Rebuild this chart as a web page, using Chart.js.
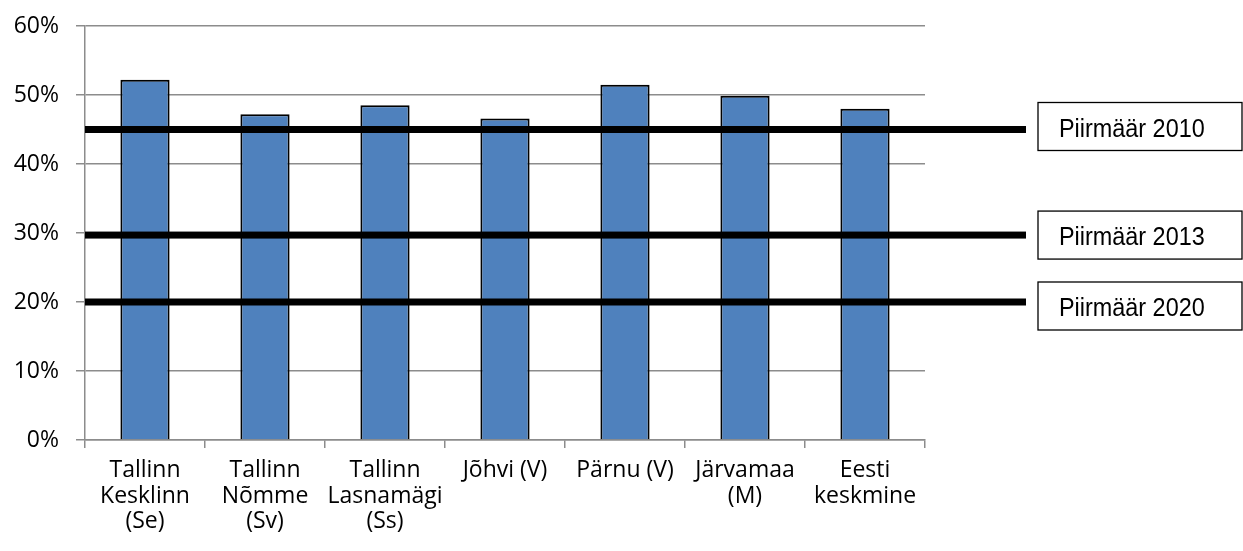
<!DOCTYPE html>
<html>
<head>
<meta charset="utf-8">
<script src="https://cdn.jsdelivr.net/npm/chart.js@4/dist/chart.umd.min.js"></script>
<style>
  html, body { margin: 0; padding: 0; background: #fff; }
  #wrap { width: 1243px; height: 551px; position: relative; }
</style>
</head>
<body>
<div id="wrap"><canvas id="chart"></canvas></div>
<script>
// ── Data ──────────────────────────────────────────────
const categories = [
    ['Tallinn', 'Kesklinn', '(Se)'],
    ['Tallinn', 'Nõmme', '(Sv)'],
    ['Tallinn', 'Lasnamägi', '(Ss)'],
    ['Jõhvi (V)'],
    ['Pärnu (V)'],
    ['Järvamaa', '(M)'],
    ['Eesti', 'keskmine']
];
const shares = [52.2, 47.2, 48.5, 46.6, 51.5, 49.9, 48.0];
const yTicks = [0, 10, 20, 30, 40, 50, 60];
const limitValues = [45, 29.7, 20];
const limitLabels = ['Piirmäär 2010', 'Piirmäär 2013', 'Piirmäär 2020'];

const tickFont = { family: '"Open Sans", Lato, sans-serif', size: 23 };
const gridColor = '#8c8c8c';

// ── Threshold lines + label boxes ─────────────────────
const limitPlugin = {
    id: 'limits',
    afterDatasetsDraw(chart) {
        const { ctx, chartArea, scales } = chart;
        const lineEnd = chartArea.right + 101;
        const boxLeft = lineEnd + 12;
        const boxRight = chart.width - 1;
        const shifts = [-3, 0, 4];
        ctx.save();
        limitValues.forEach((v, i) => {
            const y = scales.y.getPixelForValue(v);
            ctx.fillStyle = '#000';
            ctx.fillRect(chartArea.left, y - 3.5, lineEnd - chartArea.left, 7);

            const top = y - 24 + shifts[i];
            ctx.fillStyle = '#fff';
            ctx.fillRect(boxLeft, top, boxRight - boxLeft, 48);
            ctx.strokeStyle = '#000';
            ctx.lineWidth = 1.3;
            ctx.strokeRect(boxLeft, top, boxRight - boxLeft, 48);

            // narrow look: squeeze the text a bit horizontally
            ctx.save();
            ctx.translate(boxLeft + 21, top + 27);
            ctx.scale(0.9, 1);
            ctx.fillStyle = '#000';
            ctx.font = '26px "Liberation Sans Narrow", "Liberation Sans", sans-serif';
            ctx.textBaseline = 'middle';
            ctx.textAlign = 'left';
            ctx.fillText(limitLabels[i], 0, 0);
            ctx.restore();
        });
        ctx.restore();
    }
};

new Chart(document.getElementById('chart'), {
    type: 'bar',
    data: {
        labels: categories,
        datasets: [{
            data: shares,
            backgroundColor: '#4f81bd',
            borderColor: '#000',
            borderWidth: 2,
            barPercentage: 0.41,
            categoryPercentage: 1.0
        }]
    },
    options: {
        responsive: true,
        maintainAspectRatio: false,
        animation: false,
        layout: { padding: { top: 26, right: 318, left: 0, bottom: 0 } },
        plugins: {
            legend: { display: false },
            tooltip: { enabled: false }
        },
        scales: {
            x: {
                afterFit: s => { s.height = 111; s.paddingLeft = 0; s.paddingRight = 0; },
                grid: {
                    drawOnChartArea: false,
                    drawTicks: true,
                    tickLength: 8,
                    color: gridColor,
                    lineWidth: 1.5,
                    offset: true
                },
                border: { color: gridColor, width: 1.5 },
                ticks: {
                    color: '#000',
                    font: { ...tickFont, lineHeight: 1.11 },
                    padding: 10,
                    maxRotation: 0,
                    autoSkip: false
                }
            },
            y: {
                min: 0,
                max: 60,
                afterFit: s => { s.width = 85; s.paddingTop = 0; s.paddingBottom = 0; },
                afterBuildTicks: s => { s.ticks = yTicks.map(v => ({ value: v })); },
                grid: {
                    color: gridColor,
                    lineWidth: 1.5,
                    tickLength: 9
                },
                border: { color: gridColor, width: 1.5 },
                ticks: {
                    color: '#000',
                    font: tickFont,
                    padding: 17,
                    callback: v => v + '%'
                }
            }
        }
    },
    plugins: [limitPlugin]
});
</script>
</body>
</html>
